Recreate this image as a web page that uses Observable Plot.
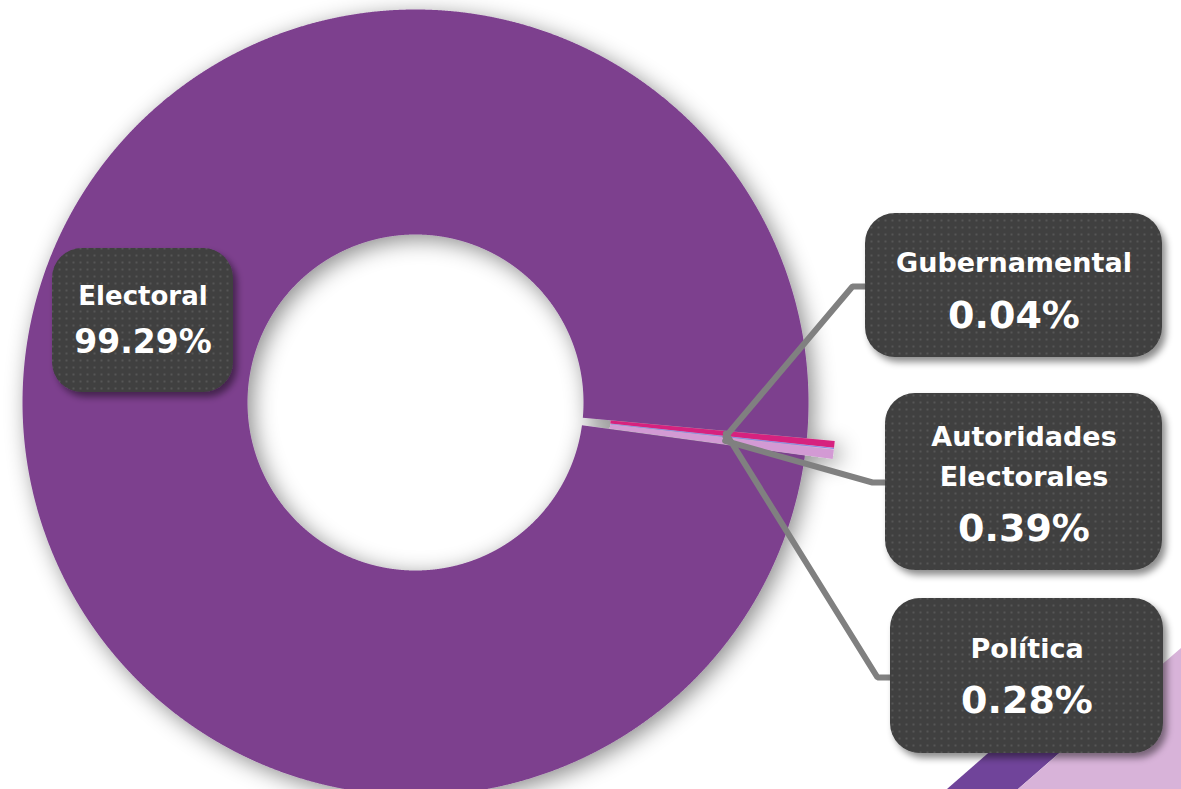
<!DOCTYPE html>
<html>
<head>
<meta charset="utf-8">
<script src="https://cdn.jsdelivr.net/npm/d3@7"></script>
<script src="https://cdn.jsdelivr.net/npm/@observablehq/plot@0.6"></script>
<style>
  html, body { margin: 0; padding: 0; background: #ffffff; }
  #wrap { position: relative; width: 1181px; height: 789px; overflow: hidden; }
  .deco { position: absolute; left: 0; top: 0; width: 1181px; height: 789px; z-index: 0; }
  #purpleStripe { background: #70449a; clip-path: polygon(947px 789px, 1018px 789px, 1120px 700px, 1049px 700px); }
  #lilacCorner { background: #d8b3d9; clip-path: polygon(1018px 789px, 1181px 789px, 1181px 648px); }
  #chart { position: absolute; left: 0; top: 0; z-index: 1; }
  #chart svg { display: block; }
</style>
</head>
<body>
<div id="wrap">
  <div class="deco" id="purpleStripe"></div>
  <div class="deco" id="lilacCorner"></div>
  <div id="chart"></div>
</div>
<script>
// ---- data ----
const categories = ["Electoral", "Política", "Gubernamental", "Autoridades Electorales"];
const values = [99.29, 0.28, 0.04, 0.39];
const colors = ["#7d418e", "#d6247f", "#8b80e6", "#d39ad4"];
const nameLabels = ["Electoral", "Política", "Gubernamental", "Autoridades\nElectorales"];
const pctLabels = values.map(v => d3.format(".2f")(v) + "%");

// ---- layout (geometry, not data) ----
const W = 1181, H = 789;
const cx = 415, cy = 402, R = 393, R0 = 168;
const explode = [0, 28, 28, 28];
const deg = Math.PI / 180;
const startAngle = 97.76 * deg;

const boxes = {
  "Electoral": {x1: 52, x2: 233, y1: 248, y2: 392, nameY: 304, pctY: 352, nameSize: 26, pctSize: 33},
  "Gubernamental": {x1: 865, x2: 1162, y1: 213, y2: 357, nameY: 271, pctY: 327, nameSize: 27, pctSize: 38, leadY: 286},
  "Autoridades Electorales": {x1: 885, x2: 1162, y1: 393, y2: 570, nameY: 485, pctY: 540, nameSize: 27, pctSize: 38, leadY: 482},
  "Política": {x1: 890, x2: 1163, y1: 598, y2: 753, nameY: 657, pctY: 712, nameSize: 27, pctSize: 38, leadY: 677}
};

// ---- slices via d3.pie ----
const pie = d3.pie().sort(null).value(d => d.value).startAngle(startAngle).endAngle(startAngle + 2 * Math.PI);
const arcs = pie(categories.map((c, i) => ({cat: c, value: values[i], i})));

const pt = (a, r, ox, oy) => ({x: cx + ox + r * Math.sin(a), y: cy + oy - r * Math.cos(a)});
const slicePts = [];
const drawOrder = [0, 1, 3, 2];
for (const k of drawOrder) {
  const a = arcs[k];
  const mid = (a.startAngle + a.endAngle) / 2;
  const ox = explode[k] * Math.sin(mid), oy = -explode[k] * Math.cos(mid);
  const n = Math.max(2, Math.ceil((a.endAngle - a.startAngle) / 0.002) + 1);
  for (let j = 0; j < n; j++) {
    const t = a.startAngle + (a.endAngle - a.startAngle) * j / (n - 1);
    slicePts.push({cat: a.data.cat, ...pt(t, R, ox, oy)});
  }
  for (let j = n - 1; j >= 0; j--) {
    const t = a.startAngle + (a.endAngle - a.startAngle) * j / (n - 1);
    slicePts.push({cat: a.data.cat, ...pt(t, R0, ox, oy)});
  }
}

// ---- leader lines ----
const leaderPts = [];
for (let k = 1; k < categories.length; k++) {
  const a = arcs[k];
  const mid = (a.startAngle + a.endAngle) / 2;
  const ox = explode[k] * Math.sin(mid), oy = -explode[k] * Math.cos(mid);
  const anchor = pt(mid, 284, ox, oy);
  const b = boxes[categories[k]];
  leaderPts.push({cat: categories[k], x: anchor.x, y: anchor.y});
  leaderPts.push({cat: categories[k], x: b.x1 - 13, y: b.leadY});
  leaderPts.push({cat: categories[k], x: b.x1 + 4, y: b.leadY});
}

// ---- label boxes & text ----
const boxRows = categories.map(c => ({cat: c, ...boxes[c]}));
const textRows = [];
categories.forEach((c, i) => {
  const b = boxes[c];
  const xm = (b.x1 + b.x2) / 2;
  textRows.push({x: xm, y: b.nameY, text: nameLabels[i], size: b.nameSize});
  textRows.push({x: xm, y: b.pctY, text: pctLabels[i], size: b.pctSize});
});

const font = "'DejaVu Sans', 'Noto Sans', sans-serif";

const chart = Plot.plot({
  width: W,
  height: H,
  margin: 0,
  x: {domain: [0, W], range: [0, W], axis: null},
  y: {domain: [0, H], range: [0, H], axis: null},
  color: {domain: categories, range: colors},
  style: {background: "transparent", overflow: "visible"},
  marks: [
    Plot.line(slicePts, {x: "x", y: "y", z: "cat", fill: "cat", stroke: "none", curve: "linear-closed"}),
    Plot.line(leaderPts, {x: "x", y: "y", z: "cat", stroke: "#808080", strokeWidth: 6, strokeLinejoin: "miter", curve: "linear"}),
    Plot.rect(boxRows, {x1: "x1", x2: "x2", y1: "y1", y2: "y2", fill: "#3f3f3f", rx: 30, ry: 30}),
    Plot.text(textRows, {x: "x", y: "y", text: "text", fontSize: d => d.size, fill: "white", fontWeight: "bold",
      fontFamily: font, textAnchor: "middle", lineAnchor: "bottom", lineHeight: 1.48})
  ]
});

document.getElementById("chart").appendChild(chart);

// ---- SVG effects: shadows and dotted texture ----
const svg = d3.select(chart);
const defs = svg.insert("defs", ":first-child");
const sh = defs.append("filter").attr("id", "ringShadow").attr("x", "-20%").attr("y", "-20%").attr("width", "140%").attr("height", "140%");
sh.append("feDropShadow").attr("dx", 5).attr("dy", 5).attr("stdDeviation", 11).attr("flood-color", "#000").attr("flood-opacity", 0.45);
const bs = defs.append("filter").attr("id", "boxShadow").attr("x", "-20%").attr("y", "-20%").attr("width", "140%").attr("height", "140%");
bs.append("feDropShadow").attr("dx", 4).attr("dy", 5).attr("stdDeviation", 3.5).attr("flood-color", "#000").attr("flood-opacity", 0.45);
const pat = defs.append("pattern").attr("id", "dots").attr("width", 7).attr("height", 7).attr("patternUnits", "userSpaceOnUse");
pat.append("rect").attr("width", 7).attr("height", 7).attr("fill", "#3f3f3f");
pat.append("rect").attr("x", 2.5).attr("y", 2.5).attr("width", 2).attr("height", 2).attr("fill", "#575757");

const lineGroups = svg.selectAll("g[aria-label='line']").nodes();
if (lineGroups[0]) d3.select(lineGroups[0]).attr("filter", "url(#ringShadow)");
svg.selectAll("g[aria-label='rect']").attr("filter", "url(#boxShadow)");
svg.selectAll("g[aria-label='rect'] rect").attr("fill", "url(#dots)");
</script>
</body>
</html>
